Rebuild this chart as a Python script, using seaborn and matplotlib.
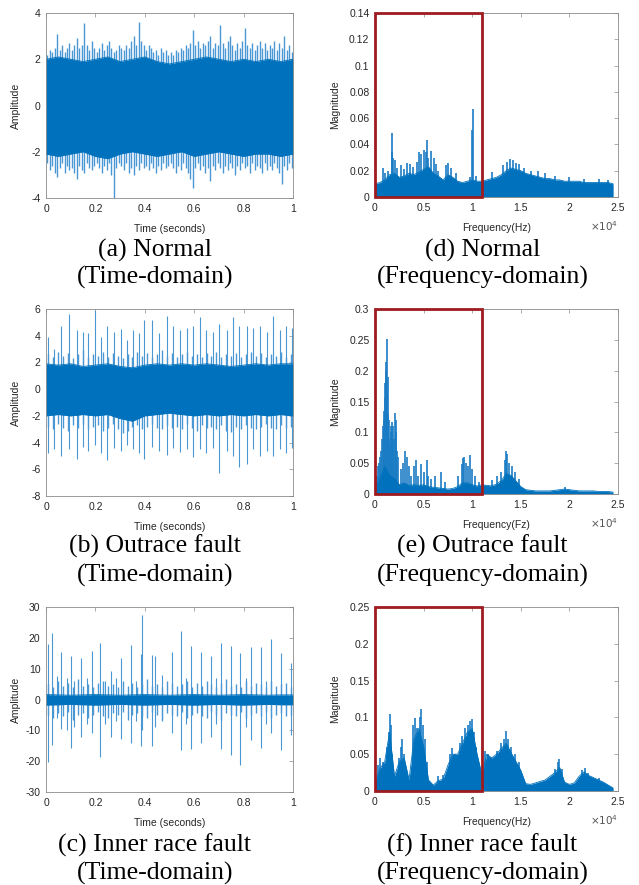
import numpy as np
import seaborn as sns
import matplotlib
matplotlib.use("Agg")
import matplotlib.pyplot as plt
from matplotlib.patches import Rectangle
from matplotlib.ticker import FuncFormatter

sns.set_style("white")
plt.rcParams["font.family"] = ["Liberation Sans", "DejaVu Sans"]
plt.rcParams["axes.unicode_minus"] = False

BLUE = "#0072BD"
LIGHT = "#4a98d3"
MID = "#1a7cc4"
BOX_RED = "#9e1b1f"

#%% Time-domain data (amplitude)
core_t = [0.0, 0.05, 0.1, 0.15, 0.2, 0.25, 0.3, 0.35, 0.4, 0.45, 0.5,
          0.55, 0.6, 0.65, 0.7, 0.75, 0.8, 0.85, 0.9, 0.95, 1.0]

# (a) normal
core_hi_a = [2.0, 2.1, 2.0, 1.9, 2.0, 2.1, 1.9, 2.0, 2.1, 1.9, 1.8,
             1.9, 2.0, 2.1, 2.0, 1.9, 2.0, 1.9, 2.0, 1.9, 2.0]
core_lo_a = [-2.1, -2.2, -2.1, -2.0, -2.2, -2.3, -2.1, -2.0, -2.1, -2.2, -2.1,
             -2.0, -2.2, -2.1, -2.0, -2.1, -2.2, -2.1, -2.1, -2.2, -2.1]
fringe_t_a = np.arange(0.005, 1.0, 0.01)
fringe_hi_a = [2.2, 2.4, 2.3, 2.5, 3.1, 2.4, 2.6, 2.3, 2.5, 2.7,
               2.4, 2.6, 2.9, 2.5, 2.6, 3.58, 2.6, 2.4, 2.8, 2.5,
               2.3, 2.5, 2.7, 2.4, 2.6, 2.8, 2.5, 2.3, 2.4, 2.6,
               2.5, 2.4, 2.6, 2.5, 2.8, 3.0, 2.6, 3.6, 2.8, 2.6,
               2.4, 2.6, 2.5, 2.3, 2.4, 2.2, 2.5, 2.3, 2.4, 2.2,
               2.3, 2.2, 2.4, 2.3, 2.5, 2.4, 2.6, 2.5, 2.7, 3.25,
               2.6, 2.8, 2.5, 2.7, 2.6, 2.8, 3.0, 2.5, 2.7, 2.6,
               3.5, 2.7, 2.5, 2.8, 3.0, 2.6, 2.4, 2.7, 2.5, 2.8,
               3.35, 2.6, 2.5, 2.7, 2.4, 2.6, 2.8, 2.5, 2.7, 2.4,
               2.6, 2.5, 2.8, 2.4, 2.7, 2.5, 3.0, 2.4, 2.6, 2.3]
fringe_lo_a = [-2.5, -2.8, -2.6, -2.9, -3.1, -2.7, -2.5, -2.9, -2.6, -2.8,
               -2.7, -2.9, -3.2, -2.6, -2.8, -2.9, -2.5, -2.7, -2.8, -2.6,
               -2.5, -2.7, -2.9, -2.6, -2.8, -2.5, -3.0, -4.0, -2.7, -2.5,
               -2.6, -2.8, -2.5, -2.9, -2.7, -3.0, -2.6, -2.8, -2.5, -2.7,
               -2.6, -2.8, -2.5, -2.7, -2.9, -2.6, -2.8, -2.5, -2.7, -2.6,
               -2.5, -2.7, -2.9, -2.6, -2.8, -2.5, -2.7, -2.9, -3.2, -3.57,
               -2.7, -2.5, -2.8, -2.6, -2.9, -2.7, -3.28, -2.6, -2.8, -2.5,
               -2.7, -2.9, -2.6, -2.8, -2.5, -2.7, -3.0, -2.6, -2.8, -2.5,
               -2.7, -2.6, -2.9, -2.5, -2.8, -2.6, -2.7, -2.9, -2.5, -2.8,
               -2.6, -2.8, -2.5, -2.7, -2.9, -3.4, -2.6, -2.8, -2.5, -2.7]
spike_t_a = []
spike_hi_a = []
spike_lo_a = []

# (b) outer race fault
core_hi_b = [1.9, 1.8, 1.9, 1.7, 1.8, 1.9, 1.7, 1.6, 1.8, 1.9, 1.8,
             1.9, 1.8, 1.9, 1.8, 1.7, 1.8, 1.9, 1.8, 1.9, 1.9]
core_lo_b = [-2.0, -1.9, -2.0, -1.9, -2.0, -1.9, -2.2, -2.4, -2.0, -1.9, -1.8,
             -1.9, -2.0, -1.9, -2.0, -1.9, -2.0, -1.9, -2.0, -1.9, -2.0]
fringe_t_b = np.arange(0.01, 1.0, 0.02)
fringe_hi_b = [2.6, 2.4, 2.8, 2.5, 2.7, 2.3, 2.6, 2.9, 2.4, 2.6,
               2.5, 2.8, 2.4, 2.7, 2.5, 2.3, 2.6, 2.4, 2.8, 2.5,
               2.7, 2.4, 2.6, 2.9, 2.5, 2.7, 2.4, 2.6, 2.8, 2.5,
               2.6, 2.4, 2.7, 2.5, 2.8, 2.4, 2.6, 2.5, 2.7, 2.4,
               2.6, 2.8, 2.5, 2.7, 2.4, 2.6, 2.5, 2.8, 2.4, 2.6]
fringe_lo_b = [-2.8, -3.0, -2.6, -2.9, -3.1, -2.7, -2.9, -2.6, -3.0, -2.8,
               -2.7, -3.1, -2.9, -2.6, -3.0, -3.3, -3.1, -2.8, -2.7, -3.0,
               -2.8, -2.6, -2.9, -3.0, -2.7, -2.9, -2.8, -3.0, -2.6, -2.9,
               -3.1, -2.7, -2.9, -2.8, -3.0, -2.7, -3.1, -3.2, -2.8, -3.0,
               -2.7, -2.9, -3.0, -2.8, -2.6, -2.9, -3.0, -2.7, -2.9, -2.8]
spike_t_b = [0.009, 0.034, 0.059, 0.094, 0.124, 0.148, 0.171, 0.198, 0.221, 0.248,
             0.275, 0.302, 0.329, 0.354, 0.378, 0.397, 0.428, 0.459, 0.489, 0.513,
             0.543, 0.570, 0.596, 0.623, 0.648, 0.677, 0.702, 0.732, 0.758, 0.783,
             0.812, 0.839, 0.866, 0.893, 0.920, 0.947, 0.972, 0.995]
spike_hi_b = [3.9, 3.0, 4.7, 5.6, 4.4, 4.3, 4.2, 5.9, 3.9, 4.7,
              4.3, 4.5, 3.7, 4.4, 4.2, 5.2, 5.2, 4.2, 5.5, 4.7,
              4.4, 4.6, 4.7, 5.4, 4.4, 4.3, 4.9, 4.4, 5.4, 4.7,
              4.7, 4.6, 4.7, 4.3, 5.5, 4.4, 4.7, 4.6]
spike_lo_b = [-4.8, -4.5, -5.0, -4.5, -5.2, -4.3, -4.6, -4.2, -4.8, -5.3,
              -4.4, -4.6, -4.2, -4.5, -4.8, -5.2, -4.3, -4.6, -4.9, -4.4,
              -4.7, -4.5, -5.1, -4.5, -4.8, -4.4, -6.3, -4.6, -5.0, -5.8,
              -5.6, -4.5, -5.0, -4.6, -5.0, -4.5, -4.8, -4.4]

# (c) inner race fault
core_hi_c = [1.6, 1.5, 1.4, 1.5, 1.6, 1.5, 1.4, 1.5, 1.6, 1.5, 1.4,
             1.5, 1.6, 1.5, 1.4, 1.5, 1.6, 1.5, 1.4, 1.5, 1.5]
core_lo_c = [-1.8, -1.7, -1.6, -1.7, -1.8, -1.7, -1.6, -1.7, -1.8, -1.7, -1.6,
             -1.7, -1.8, -1.7, -1.6, -1.7, -1.8, -1.7, -1.6, -1.7, -1.7]
fringe_t_c = np.arange(0.01, 1.0, 0.02)
fringe_hi_c = [5, 4, 6, 4.5, 5.5, 4, 6.5, 4.5, 5, 4, 5.5, 6, 4.5, 5, 4, 6, 4.5,
               5.5, 4, 5, 6.5, 4.5, 5, 4, 6, 5.5, 4.5, 5, 6, 4, 5.5, 4.5, 6, 5,
               4, 5.5, 6.5, 4.5, 5, 4, 6, 4.5, 5.5, 5, 4, 6, 4.5, 5, 5.5, 4]
fringe_lo_c = [-5, -6, -4.5, -5.5, -4, -6.5, -5, -4.5, -6, -5, -4, -5.5, -6,
               -4.5, -5, -4, -6.5, -5, -4.5, -5.5, -6, -4, -5, -6.5, -4.5, -5,
               -5.5, -4, -6, -5, -4.5, -5.5, -6, -4, -5, -6.5, -4.5, -5, -5.5,
               -4, -6, -5, -4.5, -5.5, -4, -6, -5, -4.5, -5.5, -5]
spike_t_c = [0.010, 0.024, 0.046, 0.059, 0.086, 0.100, 0.113, 0.143, 0.165, 0.188,
             0.219, 0.240, 0.262, 0.285, 0.305, 0.346, 0.365, 0.383, 0.389, 0.428,
             0.440, 0.470, 0.509, 0.545, 0.565, 0.588, 0.629, 0.667, 0.690, 0.710,
             0.748, 0.784, 0.810, 0.829, 0.869, 0.890, 0.912, 0.953, 0.990]
spike_hi_c = [18, 21.5, 7.5, 15.5, 7, 14.2, 6, 13.5, 7, 15.8,
              18.4, 6, 9.4, 7, 13.5, 17.8, 6, 14.6, 27.5, 14.5,
              14, 8, 15.5, 22.2, 7, 17.3, 15.5, 14, 7, 18.2,
              17.5, 15, 7, 17, 17, 6, 19.5, 15, 12]
spike_lo_c = [-20.3, -14.8, -6, -9.6, -10, -15.8, -9, -12, -8, -11,
              -18.8, -8, -12.3, -7, -12.8, -14, -7, -15, -10, -15,
              -9, -7, -11, -16.5, -8, -16, -14, -12, -8, -16,
              -18, -21.3, -9, -13, -15.6, -8, -10.9, -16.5, -11.5]

#%% Frequency-domain data (magnitude), Hz
freq_grid = np.arange(0, 24501, 500)

core_d = [0.010, 0.011, 0.013, 0.017, 0.018, 0.015, 0.016, 0.018, 0.017, 0.019,
          0.021, 0.023, 0.018, 0.016, 0.013, 0.017, 0.015, 0.012, 0.011, 0.012,
          0.013, 0.012, 0.012, 0.013, 0.014, 0.015, 0.017, 0.020, 0.022, 0.021,
          0.020, 0.018, 0.017, 0.016, 0.015, 0.014, 0.014, 0.013, 0.013, 0.012,
          0.012, 0.012, 0.012, 0.011, 0.011, 0.011, 0.011, 0.011, 0.011, 0.010]
peak_f_d = [800, 1000, 1300, 1700, 1800, 1900, 2100, 2300, 2700, 3000, 3300, 3600,
            3900, 4300, 4500, 4700, 5000, 5200, 5300, 5500, 5800, 6100, 6300, 6500,
            7300, 7500, 7800, 8300, 9800, 10000, 10100, 10400, 12000, 13200, 13600,
            13900, 14200, 14500, 14800, 15300, 16000, 16800, 17500, 18500, 20000,
            21500, 23000, 24000]
peak_m_d = [0.022, 0.018, 0.020, 0.034, 0.049, 0.030, 0.028, 0.022, 0.024, 0.021,
            0.026, 0.025, 0.023, 0.027, 0.034, 0.033, 0.036, 0.034, 0.043, 0.030,
            0.035, 0.030, 0.025, 0.020, 0.024, 0.026, 0.022, 0.018, 0.015, 0.051,
            0.067, 0.016, 0.019, 0.024, 0.027, 0.029, 0.028, 0.026, 0.025, 0.022,
            0.020, 0.020, 0.018, 0.016, 0.015, 0.014, 0.014, 0.013]

core_e = [0.010, 0.025, 0.045, 0.030, 0.025, 0.015, 0.018, 0.014, 0.015, 0.014,
          0.015, 0.012, 0.011, 0.010, 0.009, 0.008, 0.009, 0.012, 0.018, 0.018,
          0.015, 0.013, 0.015, 0.014, 0.013, 0.016, 0.022, 0.033, 0.030, 0.021,
          0.012, 0.007, 0.006, 0.005, 0.005, 0.005, 0.005, 0.006, 0.007, 0.008,
          0.007, 0.006, 0.005, 0.005, 0.005, 0.005, 0.004, 0.004, 0.004, 0.003]
peak_f_e = [200, 300, 400, 500, 600, 700, 800, 900, 950, 1000, 1050, 1100, 1150,
            1200, 1250, 1300, 1350, 1400, 1450, 1500, 1600, 1650, 1700, 1750, 1800,
            1850, 1900, 2000, 2100, 2150, 2200, 2300, 2400, 2700, 2900, 3100, 3300,
            3500, 3700, 4000, 4200, 4400, 4700, 5000, 5300, 5500, 5800, 6200, 6800,
            7200, 8500, 8900, 9100, 9200, 9400, 9600, 9800, 10000, 10300, 10700,
            12000, 12500, 13000, 13400, 13500, 13600, 13800, 14100, 14400, 14800,
            19500]
peak_m_e = [0.030, 0.045, 0.050, 0.060, 0.070, 0.090, 0.110, 0.135, 0.120, 0.155,
            0.180, 0.214, 0.200, 0.252, 0.160, 0.190, 0.130, 0.120, 0.090, 0.080,
            0.100, 0.110, 0.117, 0.095, 0.090, 0.080, 0.110, 0.090, 0.131, 0.120,
            0.100, 0.070, 0.060, 0.040, 0.050, 0.069, 0.060, 0.045, 0.030, 0.045,
            0.055, 0.030, 0.048, 0.035, 0.055, 0.030, 0.025, 0.030, 0.035, 0.020,
            0.030, 0.048, 0.058, 0.060, 0.050, 0.045, 0.064, 0.040, 0.030, 0.020,
            0.022, 0.030, 0.035, 0.055, 0.070, 0.065, 0.050, 0.045, 0.035, 0.025,
            0.012]

core_f = [0.012, 0.030, 0.040, 0.080, 0.020, 0.040, 0.045, 0.015, 0.070, 0.085,
          0.060, 0.015, 0.008, 0.014, 0.016, 0.035, 0.050, 0.050, 0.065, 0.080,
          0.085, 0.050, 0.022, 0.050, 0.045, 0.050, 0.058, 0.065, 0.052, 0.040,
          0.028, 0.010, 0.009, 0.011, 0.013, 0.015, 0.020, 0.025, 0.032, 0.012,
          0.009, 0.011, 0.020, 0.026, 0.021, 0.018, 0.015, 0.012, 0.008, 0.004]
peak_f_f = [300, 500, 800, 1200, 1400, 1550, 1650, 1800, 2500, 2700, 2800, 3000,
            3900, 4100, 4300, 4600, 4770, 4900, 5100, 5300, 6500, 7000, 7700, 7900,
            8200, 8700, 9000, 9300, 9600, 9800, 10000, 10200, 10400, 11300, 11600,
            12500, 13000, 13300, 13500, 13700, 14000, 14400, 14800, 18500, 18800,
            18960, 19200, 21300, 21600, 21900, 23000]
peak_m_f = [0.035, 0.045, 0.040, 0.060, 0.080, 0.105, 0.090, 0.050, 0.045, 0.060,
            0.070, 0.050, 0.090, 0.099, 0.085, 0.100, 0.111, 0.090, 0.070, 0.040,
            0.020, 0.022, 0.050, 0.058, 0.050, 0.065, 0.075, 0.085, 0.090, 0.095,
            0.098, 0.080, 0.060, 0.055, 0.050, 0.055, 0.065, 0.070, 0.081, 0.070,
            0.060, 0.050, 0.040, 0.030, 0.040, 0.043, 0.030, 0.028, 0.031, 0.025,
            0.018]

box_hz = 11000

#%% Figure
fig = plt.figure(figsize=(6.39, 8.85), dpi=100)
W, H = 639.0, 885.0


def axes_px(x0, y0, x1, y1):
    return fig.add_axes([x0 / W, 1 - y1 / H, (x1 - x0) / W, (y1 - y0) / H])


def style(ax):
    for sp in ax.spines.values():
        sp.set_color("#8a8a8a")
        sp.set_linewidth(0.6)
        sp.set_zorder(6)
    ax.tick_params(direction="in", top=True, right=True, length=3, width=0.5,
                   color="#8a8a8a", labelsize=7.5, labelcolor="#262626", pad=4)
    fmt = FuncFormatter(lambda v, p: "%g" % round(v, 6))
    ax.xaxis.set_major_formatter(fmt)
    ax.yaxis.set_major_formatter(fmt)


def time_panel(ax, c_hi, c_lo, f_t, f_hi, f_lo, s_t, s_hi, s_lo, ylim, ystep):
    ax.vlines(f_t, f_lo, f_hi, color=LIGHT, lw=1.0, zorder=1)
    if len(s_t):
        ax.vlines(s_t, s_lo, s_hi, color=LIGHT, lw=0.8, zorder=2)
    ax.fill_between(core_t, c_lo, c_hi, color=BLUE, lw=0, zorder=3)
    sns.lineplot(x=core_t, y=c_hi, ax=ax, color=BLUE, lw=0.6, zorder=3)
    sns.lineplot(x=core_t, y=c_lo, ax=ax, color=BLUE, lw=0.6, zorder=3)
    ax.set_xlim(0, 1)
    ax.set_ylim(*ylim)
    ax.set_xticks([0, 0.2, 0.4, 0.6, 0.8, 1.0])
    ax.set_yticks(np.arange(ylim[0], ylim[1] + 0.001, ystep))
    style(ax)
    ax.set_xlabel("Time (seconds)", fontsize=7.5, color="#262626")
    ax.set_ylabel("Amplitude", fontsize=7.5, color="#262626")
    ax.xaxis.set_label_coords(0.5, -0.14)
    ax.yaxis.set_label_coords(-0.1, 0.5)


def freq_panel(ax, core, p_f, p_m, ymax, ystep, xlab):
    fx = np.array(freq_grid) / 1e4
    ax.vlines(np.array(p_f) / 1e4, 0, p_m, color=MID, lw=1.2, zorder=1)
    ax.fill_between(fx, 0, core, color=BLUE, lw=0, zorder=3)
    sns.lineplot(x=fx, y=core, ax=ax, color=BLUE, lw=0.6, zorder=3)
    ax.set_xlim(0, 2.5)
    ax.set_ylim(0, ymax)
    ax.set_xticks([0, 0.5, 1, 1.5, 2, 2.5])
    ax.set_yticks(np.arange(0, ymax + 1e-9, ystep))
    style(ax)
    ax.add_patch(Rectangle((0, 0), box_hz / 1e4, ymax, fill=False,
                           edgecolor=BOX_RED, lw=2, clip_on=False, zorder=7))
    ax.set_xlabel(xlab, fontsize=7.5, color="#262626")
    ax.set_ylabel("Magnitude", fontsize=7.5, color="#262626")
    ax.xaxis.set_label_coords(0.5, -0.14)
    ax.yaxis.set_label_coords(-0.145, 0.5)
    ax.text(1.0, -0.16, r"$\times10^{4}$", transform=ax.transAxes,
            ha="right", va="center", fontsize=7.5, color="#555555")


ax_a = axes_px(46, 13, 293, 198)
time_panel(ax_a, core_hi_a, core_lo_a, fringe_t_a, fringe_hi_a, fringe_lo_a,
           spike_t_a, spike_hi_a, spike_lo_a, (-4, 4), 2)
ax_b = axes_px(46, 309, 293, 496)
time_panel(ax_b, core_hi_b, core_lo_b, fringe_t_b, fringe_hi_b, fringe_lo_b,
           spike_t_b, spike_hi_b, spike_lo_b, (-8, 6), 2)
ax_c = axes_px(46, 607, 293, 792)
time_panel(ax_c, core_hi_c, core_lo_c, fringe_t_c, fringe_hi_c, fringe_lo_c,
           spike_t_c, spike_hi_c, spike_lo_c, (-30, 30), 10)

ax_d = axes_px(375, 13, 618, 197)
freq_panel(ax_d, core_d, peak_f_d, peak_m_d, 0.14, 0.02, "Frequency(Hz)")
ax_e = axes_px(375, 309, 618, 494)
freq_panel(ax_e, core_e, peak_f_e, peak_m_e, 0.3, 0.05, "Frequency(Fz)")
ax_f = axes_px(375, 607, 618, 791)
freq_panel(ax_f, core_f, peak_f_f, peak_m_f, 0.25, 0.05, "Frequency(Hz)")

#%% Captions
captions = [
    (155, 250, "(a) Normal"), (155, 277.5, "(Time-domain)"),
    (482.5, 250, "(d) Normal"), (482.5, 277.5, "(Frequency-domain)"),
    (155, 546.7, "(b) Outrace fault"), (155, 575.8, "(Time-domain)"),
    (482.5, 546.7, "(e) Outrace fault"), (482.5, 575.8, "(Frequency-domain)"),
    (155, 845, "(c) Inner race fault"), (155, 873.3, "(Time-domain)"),
    (482.5, 845, "(f) Inner race fault"), (482.5, 873.3, "(Frequency-domain)"),
]
for cx, cy, txt in captions:
    fig.text(cx / W, 1 - cy / H, txt, ha="center", va="center",
             fontsize=18.5, family=["Liberation Serif", "DejaVu Serif"],
             color="black")

fig.savefig("out.png", dpi=100)
